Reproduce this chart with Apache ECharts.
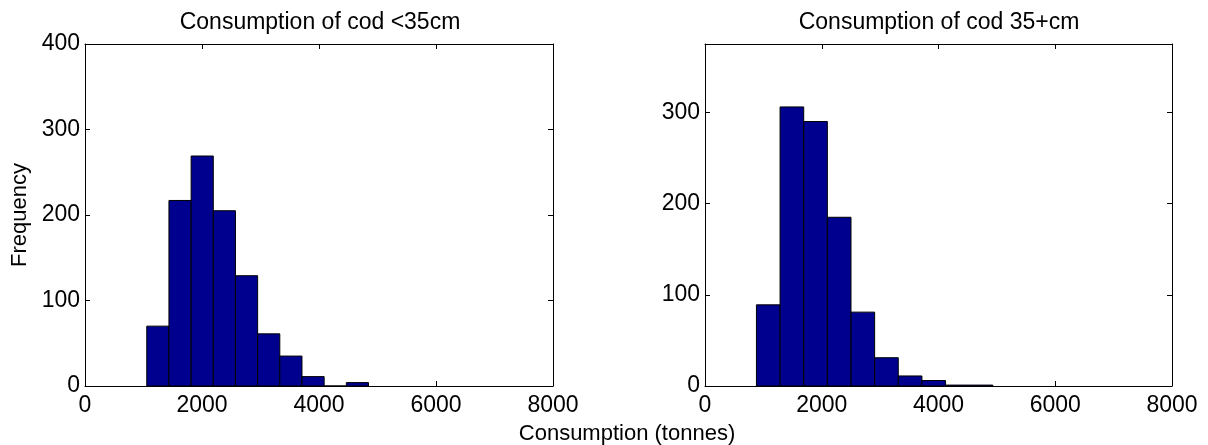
<!DOCTYPE html>
<html><head><meta charset="utf-8">
<script src="https://cdn.jsdelivr.net/npm/echarts@6/dist/echarts.min.js"></script>
<style>html,body{margin:0;padding:0;background:#fff}#c{width:1208px;height:445px}</style>
</head><body><div id="c"></div>
<script>
// ---- data ----
const titles = ['Consumption of cod <35cm', 'Consumption of cod 35+cm'];
const yLabel = 'Frequency';
const xLabel = 'Consumption (tonnes)';
const xTickValues = [0, 2000, 4000, 6000, 8000];
const leftYMax = 400;
const rightYMax = 375;
const yTickStep = 100;
const leftBinEdges = [1056, 1435, 1814, 2193, 2572, 2951, 3330, 3709, 4088, 4467, 4846];
const leftCounts = [70, 217, 269, 205, 129, 61, 35, 11, 0, 4];
const rightBinEdges = [881, 1286, 1691, 2096, 2501, 2906, 3311, 3716, 4121, 4526, 4931];
const rightCounts = [89, 306, 290, 185, 81, 31, 11, 6, 1, 1];

// ---- chart ----
const FONT = "'Liberation Sans', Arial, Helvetica, sans-serif";
const chart = echarts.init(document.getElementById('c'), null, {renderer: 'canvas'});

function binsToData(edges, counts) {
  return counts.map((c, i) => [edges[i], edges[i + 1], c]);
}

const grids = [
  {left: 85, right: 1208 - 553, top: 44, bottom: 445 - 386},
  {left: 705, right: 1208 - 1172, top: 44, bottom: 445 - 386}
];

const axisLineStyle = {show: true, onZero: false, lineStyle: {color: '#000', width: 1}};
const tickStyle = {show: true, inside: true, length: 5, lineStyle: {color: '#000', width: 1}};
const labelStyle = {color: '#000', fontFamily: FONT, fontSize: 23, formatter: v => String(v)};

const xMin = xTickValues[0], xMax = xTickValues[xTickValues.length - 1];
const xStep = xTickValues[1] - xTickValues[0];

const xAxes = [], yAxes = [];
[0, 1].forEach(g => {
  xAxes.push({type: 'value', gridIndex: g, position: 'bottom', min: xMin, max: xMax, interval: xStep,
    axisLine: axisLineStyle, axisTick: tickStyle, splitLine: {show: false},
    axisLabel: Object.assign({margin: 8}, labelStyle)});
  xAxes.push({type: 'value', gridIndex: g, position: 'top', min: xMin, max: xMax, interval: xStep,
    axisLine: axisLineStyle, axisTick: tickStyle, splitLine: {show: false}, axisLabel: {show: false}});
  const ymax = g === 0 ? leftYMax : rightYMax;
  yAxes.push({type: 'value', gridIndex: g, position: 'left', min: 0, max: ymax, interval: yTickStep,
    axisLine: axisLineStyle, axisTick: tickStyle, splitLine: {show: false},
    axisLabel: Object.assign({margin: 5, showMaxLabel: ymax % yTickStep === 0}, labelStyle)});
  yAxes.push({type: 'value', gridIndex: g, position: 'right', min: 0, max: ymax, interval: yTickStep,
    axisLine: axisLineStyle, axisTick: tickStyle, splitLine: {show: false}, axisLabel: {show: false}});
});

function renderBar(params, api) {
  const x0 = api.value(0), x1 = api.value(1), h = api.value(2);
  const p0 = api.coord([x0, 0]);
  const p1 = api.coord([x1, h]);
  return {
    type: 'rect',
    shape: {x: p0[0], y: p1[1], width: p1[0] - p0[0], height: p0[1] - p1[1]},
    style: {fill: '#00008f', stroke: '#000', lineWidth: 1}
  };
}

const option = {
  backgroundColor: '#fff',
  animation: false,
  grid: grids,
  xAxis: xAxes,
  yAxis: yAxes,
  series: [
    {type: 'custom', xAxisIndex: 0, yAxisIndex: 0, renderItem: renderBar,
      encode: {x: [0, 1], y: 2}, data: binsToData(leftBinEdges, leftCounts)},
    {type: 'custom', xAxisIndex: 2, yAxisIndex: 2, renderItem: renderBar,
      encode: {x: [0, 1], y: 2}, data: binsToData(rightBinEdges, rightCounts)}
  ],
  graphic: [
    {type: 'text', x: 320, y: 23, style: {text: titles[0], font: '23px ' + FONT, fill: '#000', textAlign: 'center', textVerticalAlign: 'middle'}},
    {type: 'text', x: 939, y: 23, style: {text: titles[1], font: '23px ' + FONT, fill: '#000', textAlign: 'center', textVerticalAlign: 'middle'}},
    {type: 'text', x: 627, y: 434, style: {text: xLabel, font: '22px ' + FONT, fill: '#000', textAlign: 'center', textVerticalAlign: 'middle'}},
    {type: 'text', x: 20, y: 215, rotation: Math.PI / 2, style: {text: yLabel, font: '22px ' + FONT, fill: '#000', textAlign: 'center', textVerticalAlign: 'middle'}}
  ]
};
chart.setOption(option);
</script></body></html>
